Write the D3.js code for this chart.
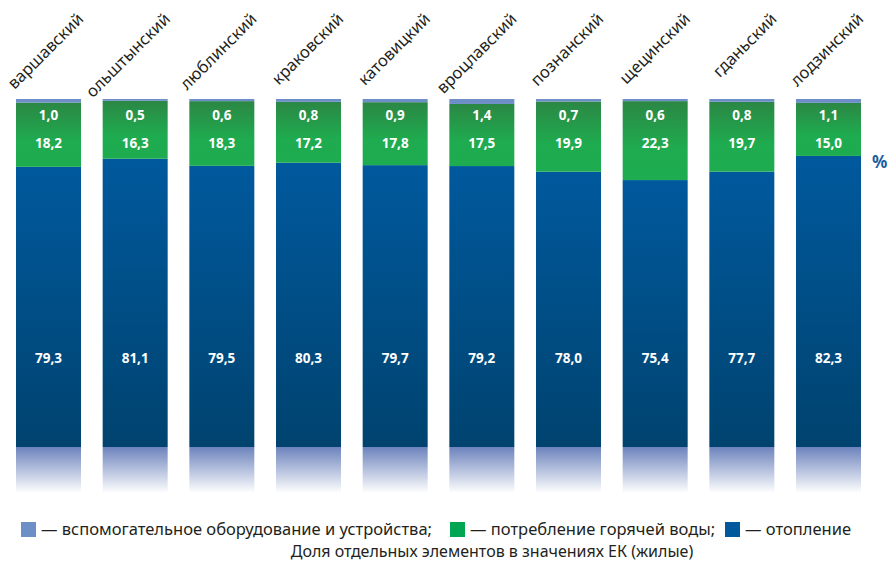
<!DOCTYPE html>
<html>
<head>
<meta charset="utf-8">
<script src="https://cdn.jsdelivr.net/npm/d3@7"></script>
<style>
  html, body { margin: 0; padding: 0; background: #fff; }
  svg { display: block; font-family: "Noto Sans", "Open Sans", sans-serif; }
</style>
</head>
<body>
<svg id="chart" width="890" height="561"></svg>
<script>
const categories = ["варшавский", "ольштынский", "люблинский", "краковский", "катовицкий",
                    "вроцлавский", "познанский", "щецинский", "гданьский", "лодзинский"];
const heating   = [79.3, 81.1, 79.5, 80.3, 79.7, 79.2, 78.0, 75.4, 77.7, 82.3];
const hotWater  = [18.2, 16.3, 18.3, 17.2, 17.8, 17.5, 19.9, 22.3, 19.7, 15.0];
const auxiliary = [1.0, 0.5, 0.6, 0.8, 0.9, 1.4, 0.7, 0.6, 0.8, 1.1];
const seriesKeys = ["heating", "hotWater", "auxiliary"];
const legendLabels = ["— вспомогательное оборудование и устройства;", "— потребление горячей воды;", "— отопление"];
const caption = "Доля отдельных элементов в значениях ЕК (жилые)";
const unitLabel = "%";

const fmt = v => d3.format(".1f")(v).replace(".", ",");

const svg = d3.select("#chart");
const defs = svg.append("defs");

const gGreen = defs.append("linearGradient").attr("id", "gGreen").attr("x1", 0).attr("y1", 0).attr("x2", 0).attr("y2", 1);
gGreen.append("stop").attr("offset", "0%").attr("stop-color", "#2b8744");
gGreen.append("stop").attr("offset", "60%").attr("stop-color", "#1fab4f");
gGreen.append("stop").attr("offset", "100%").attr("stop-color", "#1eac50");

const gBlue = defs.append("linearGradient").attr("id", "gBlue").attr("x1", 0).attr("y1", 0).attr("x2", 0).attr("y2", 1);
gBlue.append("stop").attr("offset", "0%").attr("stop-color", "#00599d");
gBlue.append("stop").attr("offset", "100%").attr("stop-color", "#00436f");

const gRefl = defs.append("linearGradient").attr("id", "gRefl").attr("x1", 0).attr("y1", 0).attr("x2", 0).attr("y2", 1);
gRefl.append("stop").attr("offset", "0%").attr("stop-color", "#6c83bc");
gRefl.append("stop").attr("offset", "100%").attr("stop-color", "#ffffff");

const fills = { heating: "url(#gBlue)", hotWater: "url(#gGreen)", auxiliary: "#6e8ec8" };
const legendColors = ["#6e8ec8", "#00a651", "#00599d"];

const data = categories.map((c, i) => ({ cat: c, heating: heating[i], hotWater: hotWater[i], auxiliary: auxiliary[i] }));

const x = d3.scaleBand().domain(categories).range([16, 861]).paddingInner(0.25).paddingOuter(0);
const y = d3.scaleLinear().domain([0, 1]).range([447, 99]);

const stack = d3.stack().keys(seriesKeys).offset(d3.stackOffsetExpand);
const stacked = stack(data);

// reflection
svg.append("g").selectAll("rect").data(data).join("rect")
  .attr("x", d => x(d.cat)).attr("width", x.bandwidth())
  .attr("y", y(0)).attr("height", 46)
  .attr("fill", "url(#gRefl)");

svg.append("g").selectAll("g").data(stacked).join("g")
  .attr("fill", s => fills[s.key])
  .selectAll("rect").data(s => s).join("rect")
  .attr("x", d => x(d.data.cat)).attr("width", x.bandwidth())
  .attr("y", d => y(d[1])).attr("height", d => y(d[0]) - y(d[1]));

// value labels
const rowY = { auxiliary: 120, hotWater: 148, heating: 363 };
const lbl = svg.append("g").attr("fill", "#ffffff").attr("font-weight", "bold").attr("font-size", 13.5).attr("text-anchor", "middle");
seriesKeys.forEach(k => {
  lbl.append("g").selectAll("text").data(data).join("text")
    .attr("x", d => x(d.cat) + x.bandwidth() / 2)
    .attr("y", rowY[k])
    .text(d => fmt(d[k]));
});

// category labels
svg.append("g").selectAll("text").data(categories).join("text")
  .attr("transform", d => `translate(${x(d) + x.bandwidth() / 2 + 36},20) rotate(-45)`)
  .attr("text-anchor", "end")
  .attr("font-size", 16.5)
  .attr("fill", "#231f20")
  .text(d => d);

svg.append("text").attr("x", 872).attr("y", 168).attr("font-size", 17).attr("font-weight", "bold")
  .attr("fill", "#1b5ea0").text(unitLabel);

// legend
const legendX = [21, 450, 725];
const lg = svg.append("g");
legendLabels.forEach((t, i) => {
  lg.append("rect").attr("x", legendX[i]).attr("y", 522).attr("width", 15).attr("height", 15).attr("fill", legendColors[i]);
  lg.append("text").attr("x", legendX[i] + 20).attr("y", 535).attr("font-size", 16.5).attr("fill", "#231f20").text(t);
});
svg.append("text").attr("x", 492).attr("y", 557).attr("text-anchor", "middle").attr("font-size", 16)
  .attr("fill", "#231f20").text(caption);
</script>
</body>
</html>
